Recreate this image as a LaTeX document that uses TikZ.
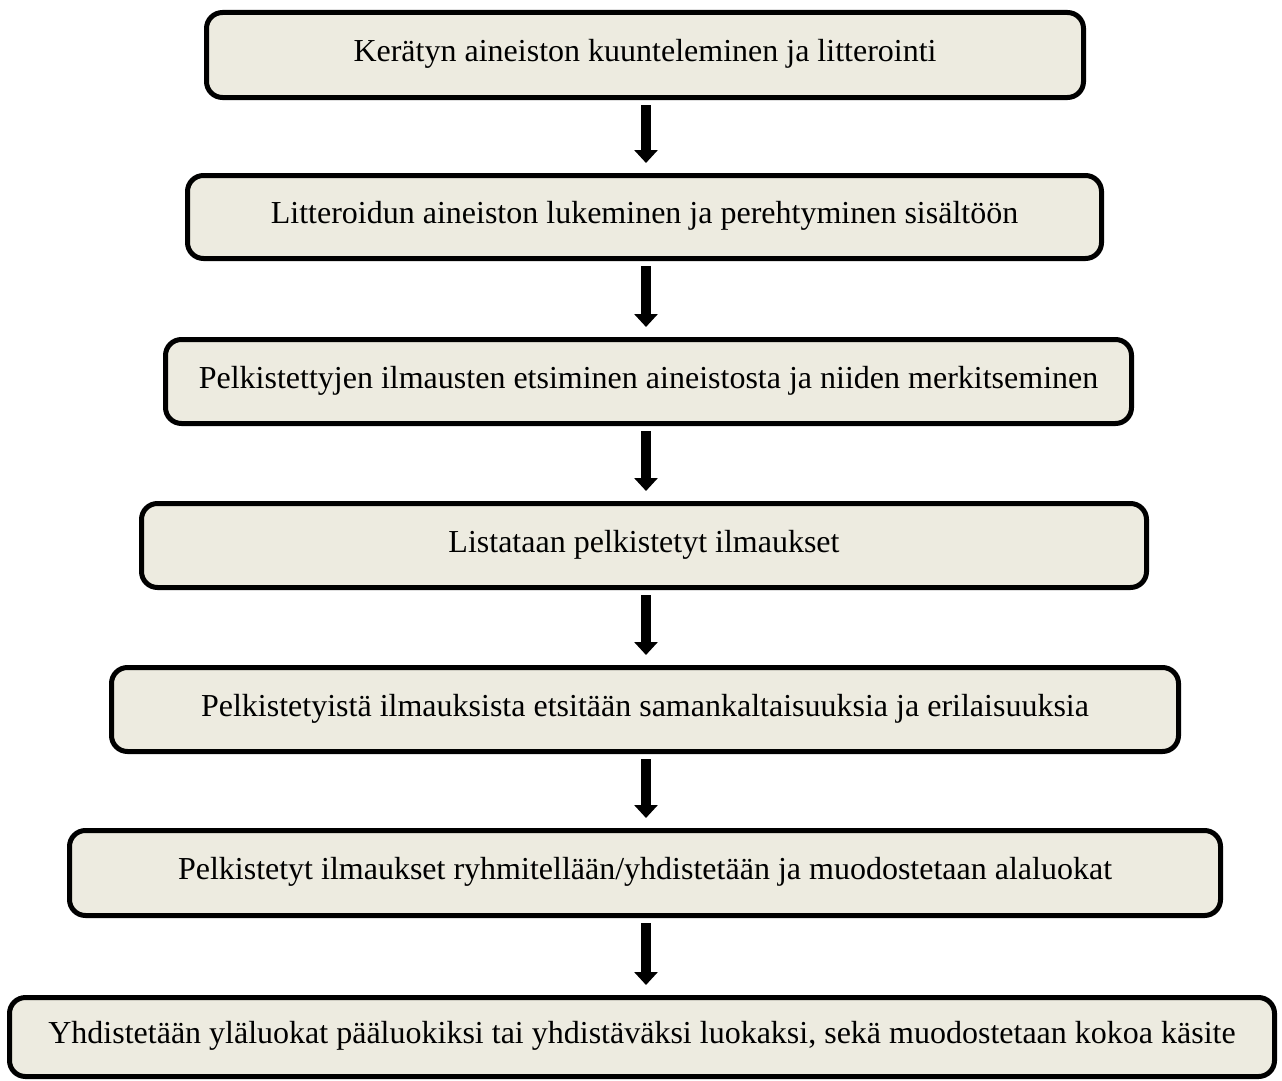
\documentclass[tikz,border=0pt]{standalone}
\usepackage{fontspec}
\setmainfont{Liberation Serif}
\usetikzlibrary{arrows.meta}
\definecolor{boxfill}{RGB}{237,235,224}
\tikzset{
  stepbox/.style={draw=black, line width=5pt, fill=boxfill, rounded corners=16pt,
    inner sep=0pt, text height=21pt, text depth=8pt,
    font=\fontsize{32}{38}\selectfont},
  flowarrow/.style={line width=10pt, -{Triangle[width=23pt,length=13pt]}}
}
\begin{document}
\begin{tikzpicture}[x=1pt,y=-1pt]
\useasboundingbox (0,0) rectangle (1282,1081);
\node[stepbox, minimum width=877pt, minimum height=85pt] (b1) at (645,55) {Kerätyn aineiston kuunteleminen ja litterointi};
\node[stepbox, minimum width=914pt, minimum height=83pt] (b2) at (644.5,217) {Litteroidun aineiston lukeminen ja perehtyminen sisältöön};
\node[stepbox, minimum width=966pt, minimum height=84pt] (b3) at (648.5,381.5) {Pelkistettyjen ilmausten etsiminen aineistosta ja niiden merkitseminen};
\node[stepbox, minimum width=1005pt, minimum height=84pt] (b4) at (644,545.5) {Listataan pelkistetyt ilmaukset};
\node[stepbox, minimum width=1067pt, minimum height=84pt] (b5) at (645,709.5) {Pelkistetyistä ilmauksista etsitään samankaltaisuuksia ja erilaisuuksia};
\node[stepbox, minimum width=1151pt, minimum height=85pt] (b6) at (645,873) {Pelkistetyt ilmaukset ryhmitellään/yhdistetään ja muodostetaan alaluokat};
\node[stepbox, minimum width=1265pt, minimum height=79pt] (b7) at (642,1037) {Yhdistetään yläluokat pääluokiksi tai yhdistäväksi luokaksi, sekä muodostetaan kokoa käsite};
\foreach \a/\b in {b1/b2,b2/b3,b3/b4,b4/b5,b5/b6,b6/b7}{
  \draw[flowarrow] ([yshift=-5pt]\a.south -| 646,0) -- ([yshift=10pt]\b.north -| 646,0);
}
\end{tikzpicture}
\end{document}
